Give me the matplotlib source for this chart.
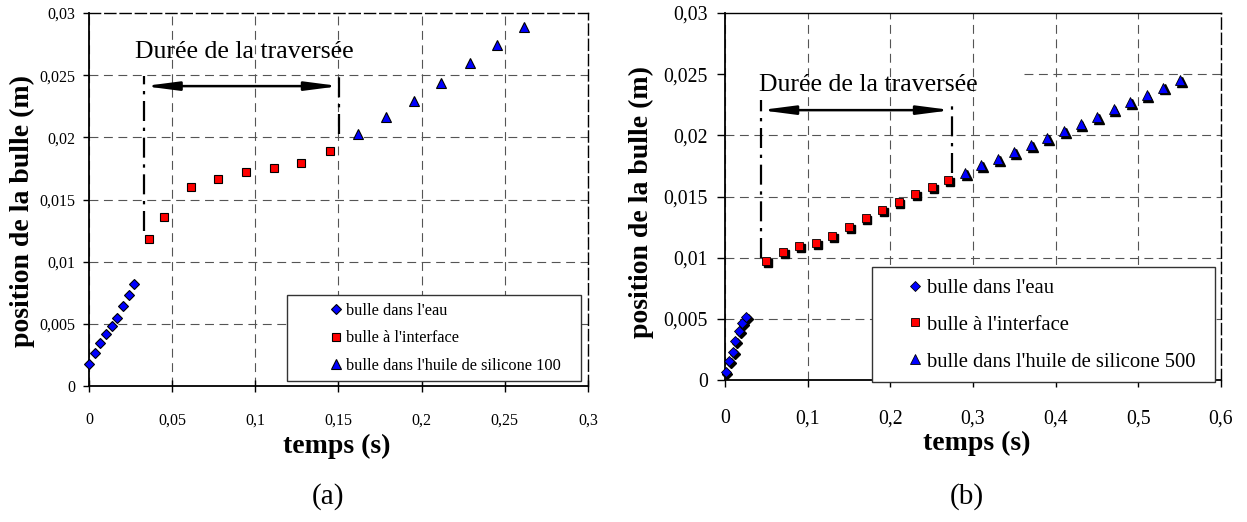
import matplotlib
matplotlib.use("Agg")
import matplotlib.pyplot as plt
import matplotlib.transforms as mtransforms
from matplotlib.patches import Rectangle
from matplotlib.ticker import FuncFormatter, MultipleLocator

plt.rcParams["font.family"] = ["Liberation Serif", "DejaVu Serif"]

# ─── Data: panel (a), silicone oil 100 ───────────────────────────────────────
a_eau_t = [0, 0.0036, 0.0068, 0.0104, 0.0138, 0.0170, 0.0205, 0.0239, 0.0272]
a_eau_y = [0.0018, 0.00265, 0.00346, 0.00418, 0.0048, 0.00547, 0.00643, 0.00731, 0.0082]
a_int_t = [0.0363, 0.0449, 0.0612, 0.0778, 0.0946, 0.1115, 0.1277, 0.1448]
a_int_y = [0.01182, 0.01356, 0.01597, 0.01664, 0.01718, 0.01755, 0.01793, 0.01891]
a_huile_t = [0.1618, 0.1787, 0.1951, 0.2118, 0.2288, 0.2451, 0.2617]
a_huile_y = [0.02023, 0.0216, 0.02293, 0.02438, 0.02596, 0.02739, 0.02888]

# ─── Data: panel (b), silicone oil 500 ───────────────────────────────────────
b_eau_t = [0.0008, 0.0048, 0.0093, 0.0125, 0.0169, 0.0209, 0.0254]
b_eau_y = [0.00065, 0.00155, 0.00231, 0.00319, 0.00398, 0.00466, 0.00517]
b_int_t = [0.05, 0.07, 0.09, 0.11, 0.13, 0.15, 0.17, 0.19, 0.21, 0.23, 0.25, 0.27]
b_int_y = [0.0097, 0.01047, 0.01095, 0.01119, 0.01179, 0.01252, 0.01326,
           0.01391, 0.01457, 0.01517, 0.01575, 0.01634]
b_huile_t = [0.29, 0.31, 0.33, 0.35, 0.37, 0.39, 0.41, 0.43, 0.45, 0.47,
             0.49, 0.51, 0.53, 0.55]
b_huile_y = [0.01694, 0.01757, 0.01808, 0.01863, 0.0192, 0.01977, 0.02034,
             0.02092, 0.02151, 0.02217, 0.02269, 0.02328, 0.02391, 0.02451]

# crossing-duration annotation: (t_start, t_end, y_arrow, y_low_start, y_low_end)
a_trav = (0.0331, 0.1506, 0.02412, 0.0125, 0.0203)
b_trav = (0.0430, 0.2740, 0.02206, 0.0100, 0.0169)

LABEL_EAU = "bulle dans l'eau"
LABEL_INT = "bulle à l'interface"
LABEL_TITLE = "Durée de la traversée"

GRID_COLOR = "#555555"
DASH = (0, (8, 5))
DASHDOT = (0, (9, 3, 1.5, 3))

comma = FuncFormatter(lambda v, p: f"{v:g}".replace(".", ","))

fig = plt.figure(figsize=(12.47, 5.22), dpi=100)
axA = fig.add_axes([0.0714, 0.2605, 0.4001, 0.7146])
axB = fig.add_axes([0.5814, 0.2720, 0.3978, 0.7031])


def style_axes(ax, xmax, xstep, tick_fs, xpad, ypad, ylen, xdir, xlen):
    ax.set_xlim(0, xmax)
    ax.set_ylim(0, 0.03)
    ax.xaxis.set_major_locator(MultipleLocator(xstep))
    ax.yaxis.set_major_locator(MultipleLocator(0.005))
    ax.xaxis.set_major_formatter(comma)
    ax.yaxis.set_major_formatter(comma)
    ax.tick_params(axis="x", direction=xdir, length=xlen, width=1.0,
                   labelsize=tick_fs, pad=xpad)
    ax.tick_params(axis="y", direction="out", length=ylen, width=1.0,
                   labelsize=tick_fs, pad=ypad)
    for s in ("left", "bottom"):
        ax.spines[s].set_linewidth(1.3)
    for s in ("top", "right"):
        ax.spines[s].set_linewidth(1.0)
    ax.spines["right"].set_linestyle((0, (8, 3)))
    ax.grid(axis="x", color=GRID_COLOR, linestyle=DASH, linewidth=0.8)


def draw_travel(ax, trav, text_xy, fs):
    t0, t1, ya, yl0, yl1 = trav
    ax.plot([t0, t0], [yl0, ya + 0.0008], color="black", lw=1.6,
            linestyle=DASHDOT, zorder=4)
    ax.plot([t1, t1], [yl1, ya + 0.0008], color="black", lw=1.6,
            linestyle=DASHDOT, zorder=4)
    ax.annotate("", xy=(t1, ya), xytext=(t0, ya),
                arrowprops=dict(arrowstyle="<|-|>,head_length=1.0,head_width=0.13",
                                mutation_scale=20, color="black", lw=1.8,
                                shrinkA=0, shrinkB=0), zorder=5)
    ax.text(text_xy[0], text_xy[1], LABEL_TITLE, ha="center", va="center",
            fontsize=fs, zorder=5)


# ─── Panel (a) ───────────────────────────────────────────────────────────────
style_axes(axA, 0.3, 0.05, 11.5, 14.5, 5.5, 4.5, "inout", 9)
axA.spines["top"].set_linestyle((0, (8, 3)))
for yv in [0.005, 0.01, 0.015, 0.02, 0.025]:
    axA.axhline(yv, color=GRID_COLOR, linestyle=DASH, linewidth=0.8, zorder=0.5)

axA.plot(a_eau_t, a_eau_y, "D", color="#0000FF", mec="black", mew=0.8, ms=5.5,
         label=LABEL_EAU, zorder=3, clip_on=False)
axA.plot(a_int_t, a_int_y, "s", color="#FF0000", mec="black", mew=0.8, ms=6,
         label=LABEL_INT, zorder=3)
axA.plot(a_huile_t, a_huile_y, "^", color="#0000FF", mec="black", mew=0.8, ms=7,
         label="bulle dans l'huile de silicone 100", zorder=3)
draw_travel(axA, a_trav, (0.0933, 0.02685), 18.5)

axA.add_patch(Rectangle((0.397, 0.0142), 0.589, 0.23, transform=axA.transAxes,
                        facecolor="white", edgecolor="#333333", lw=1.0, zorder=6))
legA = axA.legend(loc="center left", bbox_to_anchor=(0.453, 0.128), frameon=False,
                  fontsize=11.8, handlelength=0.8, handletextpad=0.21,
                  labelspacing=0.7, borderpad=0.4)
legA.set_zorder(7)

# ─── Panel (b) ───────────────────────────────────────────────────────────────
style_axes(axB, 0.6, 0.1, 14.2, 16, 7, 5.5, "out", 5)
for yv, x0 in [(0.005, 0), (0.01, 0), (0.015, 0), (0.02, 0), (0.025, 0.603)]:
    axB.axhline(yv, xmin=x0, color=GRID_COLOR, linestyle=DASH, linewidth=0.8,
                zorder=0.5)

shadow = mtransforms.offset_copy(axB.transData, fig=fig, x=1.3, y=-1.3, units="points")
for t, y, m, ms in [(b_eau_t, b_eau_y, "D", 5.2), (b_int_t, b_int_y, "s", 5.5),
                    (b_huile_t, b_huile_y, "^", 6.5)]:
    axB.plot(t, y, m, color="black", mec="black", ms=ms, transform=shadow,
             zorder=2.5, clip_on=False)
axB.plot(b_eau_t, b_eau_y, "D", color="#0000FF", mec="black", mew=0.6, ms=5.2,
         label=LABEL_EAU, zorder=3, clip_on=False)
axB.plot(b_int_t, b_int_y, "s", color="#FF0000", mec="black", mew=0.6, ms=5.5,
         label=LABEL_INT, zorder=3)
axB.plot(b_huile_t, b_huile_y, "^", color="#0000FF", mec="black", mew=0.6, ms=6.5,
         label="bulle dans l'huile de silicone 500", zorder=3)
draw_travel(axB, b_trav, (0.1729, 0.0241), 18.5)

axB.add_patch(Rectangle((0.297, -0.005), 0.691, 0.312, transform=axB.transAxes,
                        facecolor="white", edgecolor="#333333", lw=1.0, zorder=6,
                        clip_on=False))
legB = axB.legend(loc="center left", bbox_to_anchor=(0.328, 0.15), frameon=False,
                  fontsize=14.9, handlelength=0.8, handletextpad=0.21,
                  labelspacing=0.84, borderpad=0.4)
legB.set_zorder(7)

# ─── Axis labels and panel letters ───────────────────────────────────────────
W, H = 1247.0, 522.0
fig.text(22 / W, 1 - 211 / H, "position de la bulle (m)", rotation=90,
         ha="center", va="center", fontsize=20, fontweight="bold")
fig.text(641 / W, 1 - 202 / H, "position de la bulle (m)", rotation=90,
         ha="center", va="center", fontsize=20, fontweight="bold")
fig.text(337 / W, 1 - 446 / H, "temps (s)", ha="center", va="center",
         fontsize=20, fontweight="bold")
fig.text(977 / W, 1 - 443 / H, "temps (s)", ha="center", va="center",
         fontsize=20, fontweight="bold")
fig.text(328 / W, 1 - 497 / H, "(a)", ha="center", va="center", fontsize=21)
fig.text(967 / W, 1 - 497 / H, "(b)", ha="center", va="center", fontsize=21)

fig.savefig("out.png", dpi=100)
